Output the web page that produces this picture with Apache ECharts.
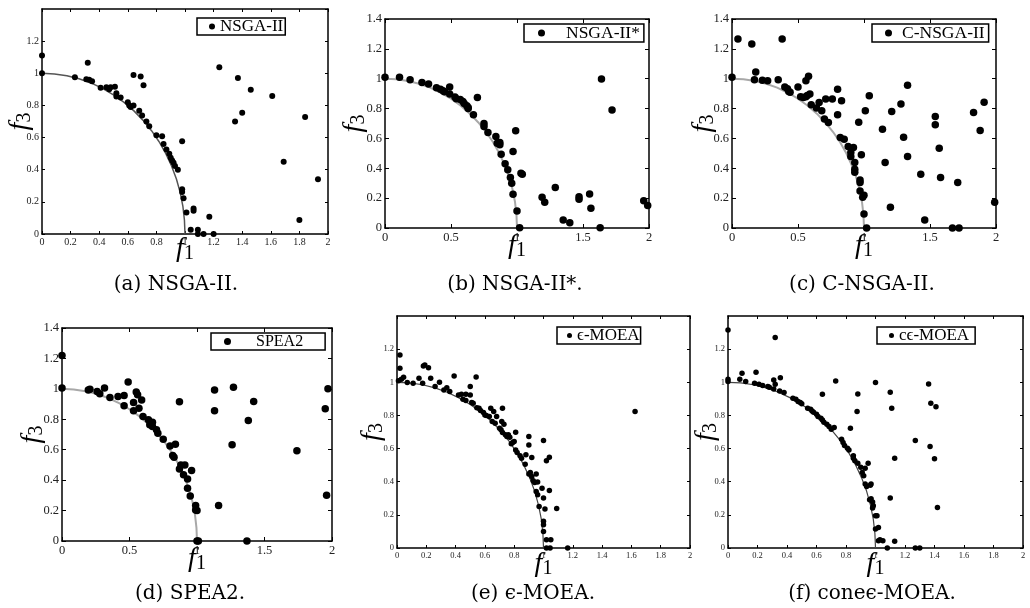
<!DOCTYPE html>
<html>
<head>
<meta charset="utf-8">
<script src="https://cdn.jsdelivr.net/npm/echarts@6/dist/echarts.min.js"></script>
<style>
  html, body { margin: 0; padding: 0; background: #fff; }
  #chart { width: 1030px; height: 608px; }
</style>
</head>
<body>
<div id="chart"></div>
<script>
// True Pareto front (quarter of the unit circle), sampled every 5 degrees
const frontF1 = [0, 0.087, 0.174, 0.259, 0.342, 0.423, 0.5, 0.574, 0.643, 0.707, 0.766, 0.819, 0.866, 0.906, 0.940, 0.966, 0.985, 0.996, 1];
const frontF3 = [1, 0.996, 0.985, 0.966, 0.940, 0.906, 0.866, 0.819, 0.766, 0.707, 0.643, 0.574, 0.5, 0.423, 0.342, 0.259, 0.174, 0.087, 0];

// Obtained solutions, [f1, f3]
const nsga2 = [[0,1.11],[0,1.0],[0.23,0.975],[0.32,1.066],[0.31,0.963],[0.33,0.96],[0.35,0.95],[0.41,0.91],[0.45,0.913],[0.47,0.90],[0.48,0.913],[0.51,0.917],[0.52,0.876],[0.52,0.856],[0.55,0.85],[0.60,0.82],[0.61,0.80],[0.62,0.79],[0.64,0.80],[0.64,0.99],[0.69,0.98],[0.71,0.926],[0.68,0.767],[0.70,0.738],[0.73,0.70],[0.75,0.67],[0.80,0.614],[0.84,0.608],[0.85,0.56],[0.87,0.526],[0.89,0.50],[0.90,0.474],[0.91,0.458],[0.92,0.443],[0.93,0.423],[0.95,0.40],[0.98,0.577],[0.98,0.278],[0.98,0.262],[0.99,0.223],[1.01,0.134],[1.04,0.027],[1.06,0.159],[1.06,0.144],[1.09,0.027],[1.09,0],[1.13,0],[1.17,0.107],[1.20,0],[1.24,1.037],[1.37,0.97],[1.35,0.70],[1.40,0.755],[1.46,0.897],[1.61,0.858],[1.69,0.45],[1.80,0.087],[1.84,0.728],[1.93,0.34]];

const nsga2Star = [[0,1.01],[0.11,1.01],[0.19,0.993],[0.28,0.975],[0.33,0.964],[0.39,0.94],[0.42,0.93],[0.44,0.92],[0.45,0.913],[0.49,0.944],[0.49,0.897],[0.53,0.877],[0.54,0.866],[0.57,0.86],[0.59,0.848],[0.60,0.834],[0.62,0.819],[0.63,0.808],[0.63,0.80],[0.67,0.758],[0.70,0.875],[0.75,0.70],[0.75,0.68],[0.78,0.64],[0.84,0.613],[0.85,0.568],[0.87,0.557],[0.87,0.573],[0.88,0.494],[0.91,0.43],[0.93,0.39],[0.95,0.338],[0.96,0.30],[0.97,0.226],[0.97,0.512],[0.99,0.651],[1.00,0.114],[1.02,0.002],[1.03,0.367],[1.04,0.36],[1.19,0.206],[1.21,0.172],[1.29,0.271],[1.35,0.054],[1.40,0.036],[1.47,0.21],[1.47,0.192],[1.55,0.228],[1.56,0.132],[1.63,0.002],[1.64,0.998],[1.72,0.79],[1.96,0.183],[1.99,0.15]];

const cNsga2 = [[0,1.01],[0.045,1.266],[0.15,1.233],[0.38,1.266],[0.17,0.993],[0.18,1.045],[0.23,0.989],[0.27,0.987],[0.35,0.993],[0.40,0.944],[0.42,0.933],[0.43,0.915],[0.44,0.91],[0.50,0.944],[0.52,0.88],[0.54,0.875],[0.56,0.88],[0.57,0.888],[0.59,0.897],[0.56,0.987],[0.58,1.016],[0.60,0.826],[0.64,0.803],[0.66,0.841],[0.68,0.785],[0.71,0.864],[0.70,0.73],[0.73,0.707],[0.76,0.864],[0.80,0.93],[0.80,0.758],[0.83,0.852],[0.82,0.606],[0.85,0.595],[0.88,0.546],[0.90,0.505],[0.90,0.479],[0.92,0.539],[0.93,0.438],[0.93,0.394],[0.93,0.374],[0.96,0.709],[0.97,0.322],[0.97,0.304],[0.97,0.248],[0.98,0.49],[1.00,0.22],[0.99,0.206],[1.00,0.094],[1.02,0],[1.01,0.785],[1.04,0.886],[1.14,0.662],[1.16,0.438],[1.20,0.139],[1.21,0.78],[1.28,0.83],[1.30,0.608],[1.33,0.957],[1.33,0.479],[1.43,0.36],[1.46,0.054],[1.54,0.747],[1.54,0.691],[1.57,0.535],[1.58,0.338],[1.67,0],[1.71,0.304],[1.72,0],[1.83,0.774],[1.88,0.653],[1.91,0.843],[1.99,0.172]];

const spea2 = [[0,1.22],[0,1.005],[0.195,0.993],[0.207,0.998],[0.26,0.983],[0.28,0.968],[0.315,1.005],[0.355,0.944],[0.415,0.95],[0.46,0.957],[0.46,0.889],[0.49,1.045],[0.53,0.856],[0.53,0.91],[0.55,0.979],[0.56,0.961],[0.57,0.873],[0.59,0.926],[0.60,0.819],[0.64,0.797],[0.65,0.764],[0.67,0.781],[0.67,0.753],[0.70,0.731],[0.71,0.709],[0.75,0.669],[0.80,0.625],[0.84,0.636],[0.82,0.562],[0.83,0.551],[0.87,0.915],[0.87,0.474],[0.88,0.50],[0.91,0.50],[0.90,0.435],[0.93,0.408],[0.93,0.347],[0.95,0.296],[0.96,0.463],[0.99,0.233],[0.99,0.204],[1.0,0.20],[1.0,0],[1.01,0],[1.13,0.993],[1.13,0.856],[1.16,0.233],[1.26,0.632],[1.27,1.01],[1.37,0],[1.38,0.792],[1.42,0.917],[1.74,0.593],[1.97,1.0],[1.95,0.87],[1.96,0.30]];

const eMoea = [[0.02,1.165],[0.02,1.084],[0.01,1.01],[0.03,1.018],[0.045,1.03],[0.07,0.998],[0.11,0.994],[0.15,1.024],[0.175,0.994],[0.18,1.098],[0.19,1.104],[0.215,1.088],[0.23,1.024],[0.26,0.974],[0.29,1.0],[0.32,0.954],[0.34,0.967],[0.36,0.944],[0.39,1.038],[0.42,0.924],[0.44,0.928],[0.45,0.898],[0.47,0.928],[0.47,0.89],[0.50,0.924],[0.50,0.974],[0.51,0.878],[0.52,0.873],[0.54,1.032],[0.545,0.847],[0.56,0.843],[0.57,0.829],[0.59,0.817],[0.60,0.803],[0.61,0.799],[0.63,0.793],[0.64,0.843],[0.65,0.763],[0.66,0.823],[0.67,0.753],[0.68,0.793],[0.70,0.723],[0.715,0.763],[0.72,0.843],[0.71,0.713],[0.72,0.697],[0.73,0.747],[0.74,0.683],[0.75,0.673],[0.76,0.683],[0.77,0.669],[0.78,0.629],[0.79,0.637],[0.80,0.643],[0.81,0.699],[0.81,0.592],[0.82,0.576],[0.84,0.556],[0.85,0.542],[0.875,0.506],[0.88,0.562],[0.90,0.673],[0.90,0.622],[0.90,0.446],[0.91,0.456],[0.92,0.432],[0.92,0.546],[0.93,0.406],[0.94,0.396],[0.95,0.446],[0.96,0.398],[0.95,0.341],[0.96,0.321],[0.97,0.251],[0.99,0.361],[1.0,0.301],[1.0,0.649],[1.01,0.235],[1.0,0.161],[1.0,0.141],[1.0,0.10],[1.02,0.526],[1.04,0.548],[1.04,0.347],[1.02,0.05],[1.02,0],[1.045,0],[1.05,0.05],[1.09,0.239],[1.165,0],[1.625,0.823]];

const coneEMoea = [[0,1.315],[0.32,1.271],[0,1.018],[0,1.004],[0.08,1.018],[0.095,1.054],[0.12,1.004],[0.18,0.994],[0.19,1.06],[0.21,0.988],[0.235,0.98],[0.27,0.974],[0.28,0.97],[0.31,0.96],[0.31,1.014],[0.32,0.988],[0.355,1.028],[0.35,0.948],[0.38,0.938],[0.44,0.904],[0.46,0.898],[0.475,0.884],[0.49,0.878],[0.50,0.87],[0.54,0.843],[0.56,0.837],[0.57,0.827],[0.58,0.819],[0.60,0.807],[0.61,0.793],[0.63,0.783],[0.64,0.773],[0.65,0.759],[0.64,0.928],[0.67,0.747],[0.685,0.733],[0.70,0.717],[0.72,0.727],[0.73,1.008],[0.77,0.657],[0.78,0.637],[0.79,0.618],[0.81,0.602],[0.82,0.592],[0.83,0.723],[0.85,0.556],[0.85,0.542],[0.86,0.526],[0.88,0.512],[0.875,0.823],[0.88,0.93],[0.90,0.488],[0.91,0.456],[0.92,0.436],[0.93,0.482],[0.95,0.512],[0.93,0.386],[0.94,0.371],[0.965,0.378],[0.97,0.386],[0.96,0.291],[0.97,0.297],[0.98,0.277],[0.98,0.241],[0.985,0.255],[1.0,0.114],[1.0,0.195],[1.01,0.195],[1.02,0.124],[1.02,0.044],[1.03,0.05],[1.05,0.044],[1.08,0],[1.0,0.998],[1.10,0.94],[1.10,0.301],[1.11,0.843],[1.13,0.542],[1.13,0.04],[1.27,0.649],[1.27,0],[1.30,0],[1.36,0.99],[1.37,0.612],[1.375,0.873],[1.41,0.853],[1.40,0.538],[1.42,0.245]];

const seriesNames = ['NSGA-II', 'NSGA-II*', 'C-NSGA-II', 'SPEA2', '\u03F5-MOEA', 'c\u03F5-MOEA'];
const seriesData = [nsga2, nsga2Star, cNsga2, spea2, eMoea, coneEMoea];
const captions = ['(a) NSGA-II.', '(b) NSGA-II*.', '(c) C-NSGA-II.', '(d) SPEA2.', '(e) \u03F5-MOEA.', '(f) cone\u03F5-MOEA.'];

// Axis ranges and tick steps
const f1Range = [0, 2];
const f3Range = [0, 1.4];
const f1StepFine = 0.2;
const f1StepCoarse = 0.5;
const f3Step = 0.2;

// Panel geometry and styling
const panels = [
  { grid: { left: 42,  top: 9,   width: 286, height: 225 }, step: f1StepFine,   topLabel: false, fs: 10,   tick: 3, sym: 6,   front: '#555', fw: 1.5, xGap: 1, yGap: 8,
    leg: { left: 197, top: 18, h: 15, pad: [0, 2, 0, 12], icon: 6, fs: 17, tp: 0 }, cap: [176, 285] },
  { grid: { left: 385, top: 19,  width: 264, height: 209 }, step: f1StepCoarse, topLabel: true,  fs: 12.5, tick: 4, sym: 7.5, front: '#a8a8a8', fw: 2, xGap: 4, yGap: 17,
    leg: { left: 524, top: 24, h: 17, pad: [0, 4, 0, 14], icon: 7, fs: 17.5, tp: 16 }, cap: [515, 285] },
  { grid: { left: 732, top: 19,  width: 264, height: 209 }, step: f1StepCoarse, topLabel: true,  fs: 12.5, tick: 4, sym: 7.5, front: '#a8a8a8', fw: 2, xGap: 4, yGap: 15,
    leg: { left: 872, top: 24, h: 17, pad: [0, 4, 0, 13], icon: 7, fs: 17.5, tp: 5 }, cap: [862, 285] },
  { grid: { left: 62,  top: 328, width: 270, height: 213 }, step: f1StepCoarse, topLabel: true,  fs: 12.5, tick: 4, sym: 7.5, front: '#a8a8a8', fw: 2, xGap: 4, yGap: 16,
    leg: { left: 211, top: 333, h: 17, pad: [0, 22, 0, 13], icon: 7, fs: 16, tp: 20 }, cap: [190, 594] },
  { grid: { left: 397, top: 316, width: 293, height: 232 }, step: f1StepFine,   topLabel: false, fs: 8.5,  tick: 3, sym: 5.5, front: '#444', fw: 1.2, xGap: 2, yGap: 11,
    leg: { left: 557, top: 327, h: 14, pad: [0, 1, 0, 10], icon: 5, fs: 17, tp: 0 }, cap: [533, 594] },
  { grid: { left: 728, top: 316, width: 295, height: 232 }, step: f1StepFine,   topLabel: false, fs: 8.5,  tick: 3, sym: 5.5, front: '#444', fw: 1.2, xGap: 2, yGap: 8,
    leg: { left: 877, top: 327, h: 14, pad: [0, 6, 0, 12], icon: 5, fs: 17, tp: 0 }, cap: [872, 594] }
];

const serif = '"Liberation Serif", "Times New Roman", serif';
const nameRich = {
  f: { fontFamily: serif, fontStyle: 'italic', fontSize: 28, color: '#000', lineHeight: 28 },
  s: { fontFamily: serif, fontSize: 20, color: '#000', lineHeight: 28, padding: [10, 0, 0, 0] }
};

const frontData = frontF1.map((v, k) => [v, frontF3[k]]);

const grid = [], xAxis = [], yAxis = [], series = [], legend = [], graphic = [];

panels.forEach((p, i) => {
  grid.push(Object.assign({ outerBoundsMode: 'none', containLabel: false }, p.grid));

  const line = { show: true, onZero: false, lineStyle: { color: '#000', width: 1.5 } };
  const tick = { show: true, inside: true, length: p.tick, lineStyle: { color: '#000', width: 1 } };
  const label = { fontFamily: serif, fontSize: p.fs, color: '#222', margin: 3 };

  xAxis.push({
    gridIndex: i, type: 'value', position: 'bottom', min: f1Range[0], max: f1Range[1], interval: p.step,
    axisLine: line, axisTick: tick, splitLine: { show: false },
    axisLabel: Object.assign({ showMinLabel: true, showMaxLabel: true }, label),
    name: '{f|f}{s|1}', nameLocation: 'middle', nameGap: p.xGap, nameMoveOverlap: false,
    nameTextStyle: { rich: nameRich }
  });
  xAxis.push({
    gridIndex: i, type: 'value', position: 'top', min: f1Range[0], max: f1Range[1], interval: p.step,
    axisLine: line, axisTick: tick, splitLine: { show: false }, axisLabel: { show: false }
  });
  yAxis.push({
    gridIndex: i, type: 'value', position: 'left', min: f3Range[0], max: f3Range[1], interval: f3Step,
    axisLine: line, axisTick: tick, splitLine: { show: false },
    axisLabel: Object.assign({ showMinLabel: true, showMaxLabel: p.topLabel }, label),
    name: '{f|f}{s|3}', nameLocation: 'middle', nameGap: p.yGap, nameRotate: 90, nameMoveOverlap: false,
    nameTextStyle: { rich: nameRich }
  });
  yAxis.push({
    gridIndex: i, type: 'value', position: 'right', min: f3Range[0], max: f3Range[1], interval: f3Step,
    axisLine: line, axisTick: tick, splitLine: { show: false }, axisLabel: { show: false }
  });

  series.push({
    name: 'front' + i, type: 'line', xAxisIndex: 2 * i, yAxisIndex: 2 * i,
    data: frontData, showSymbol: false, silent: true, z: 1,
    lineStyle: { color: p.front, width: p.fw }
  });
  series.push({
    name: seriesNames[i], type: 'scatter', xAxisIndex: 2 * i, yAxisIndex: 2 * i,
    data: seriesData[i], symbol: 'circle', symbolSize: p.sym, clip: false, z: 2,
    itemStyle: { color: '#000', opacity: 1 }
  });

  legend.push({
    data: [seriesNames[i]], left: p.leg.left, top: p.leg.top, orient: 'horizontal',
    icon: 'circle', itemWidth: p.leg.icon, itemHeight: p.leg.icon, itemGap: 0,
    padding: p.leg.pad, borderColor: '#000', borderWidth: 1.5, borderRadius: 0,
    backgroundColor: '#fff', selectedMode: false,
    itemStyle: { opacity: 1 },
    textStyle: { fontFamily: serif, fontSize: p.leg.fs, color: '#000', lineHeight: p.leg.h, padding: [0, 0, 0, p.leg.tp] }
  });

  graphic.push({
    type: 'text', x: p.cap[0], y: p.cap[1], silent: true,
    style: { text: captions[i], font: '20px "DejaVu Serif", serif', fill: '#000', align: 'center', verticalAlign: 'middle' }
  });
});

const chart = echarts.init(document.getElementById('chart'), null, { renderer: 'canvas' });
chart.setOption({
  animation: false,
  backgroundColor: '#fff',
  grid, xAxis, yAxis, series, legend, graphic
});
</script>
</body>
</html>
